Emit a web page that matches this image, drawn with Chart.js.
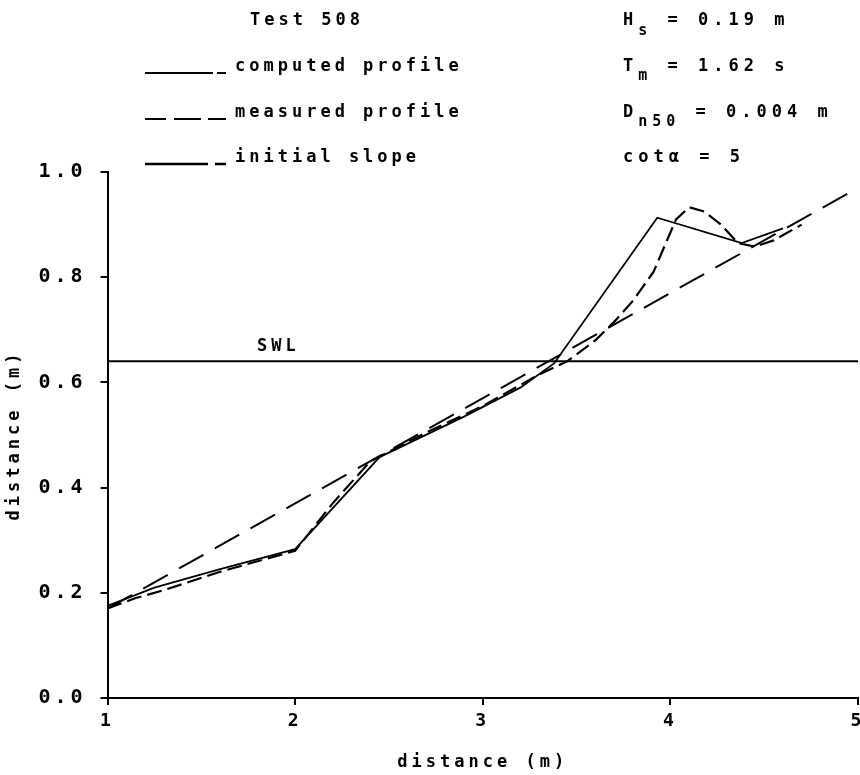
<!DOCTYPE html>
<html>
<head>
<meta charset="utf-8">
<script src="https://cdn.jsdelivr.net/npm/chart.js@4.4.0/dist/chart.umd.min.js"></script>
<style>
  html, body { margin: 0; padding: 0; background: #fff; }
</style>
</head>
<body>
<canvas id="profileChart" width="860" height="775"></canvas>
<script>
// profile data (test 508)
const computedX = [1.0, 1.25, 1.6, 2.0, 2.45, 2.9, 3.2, 3.38, 3.93, 4.38, 4.6];
const computedY = [0.175, 0.21, 0.245, 0.283, 0.458, 0.535, 0.59, 0.636, 0.913, 0.865, 0.893];
const measuredX = [1.0, 1.15, 1.3, 1.6, 2.0, 2.2, 2.4, 2.7, 3.0, 3.3, 3.45, 3.6, 3.7, 3.8, 3.91, 3.97, 4.03, 4.1, 4.18, 4.27, 4.36, 4.45, 4.55, 4.7];
const measuredY = [0.17, 0.19, 0.205, 0.24, 0.28, 0.37, 0.45, 0.505, 0.555, 0.615, 0.64, 0.68, 0.715, 0.755, 0.81, 0.86, 0.91, 0.933, 0.925, 0.9, 0.865, 0.858, 0.87, 0.9];
const slopeX = [1, 5];
const slopeY = [0.17, 0.97];
const swlX = [1, 5];
const swlY = [0.64, 0.64];
const xTicks = [1, 2, 3, 4, 5];
const yTicks = [0.0, 0.2, 0.4, 0.6, 0.8, 1.0];

const FONT = 'DejaVu Sans Mono';
const toPoints = (xs, ys) => xs.map((x, i) => ({ x: x, y: ys[i] }));

// wide plotter-like lettering for every text on the canvas
const spacing = {
    id: 'spacing',
    beforeLayout(chart) { chart.ctx.letterSpacing = '4px'; },
    beforeDraw(chart) { chart.ctx.letterSpacing = '4px'; }
};

function drawParts(ctx, x, y, parts) {
    // parts: [text, size, dy]
    parts.forEach(p => {
        ctx.font = 'bold ' + p[1] + 'px ' + FONT;
        ctx.fillText(p[0], x, y + p[2]);
        x += ctx.measureText(p[0]).width;
    });
}

function seg(ctx, x0, x1, y) {
    ctx.moveTo(x0, y);
    ctx.lineTo(x1, y);
}

const annotations = {
    id: 'annotations',
    afterDraw(chart) {
        const ctx = chart.ctx;
        const ys = chart.scales.y;
        ctx.save();
        ctx.letterSpacing = '4px';
        ctx.fillStyle = '#000';
        ctx.strokeStyle = '#000';
        ctx.textBaseline = 'middle';
        ctx.textAlign = 'left';
        ctx.lineWidth = 2;

        const rowY = [21, 67, 113, 158];

        // legend block
        drawParts(ctx, 250, rowY[0], [['Test 508', 17, 0]]);
        ctx.beginPath();
        seg(ctx, 145, 213, rowY[1] + 6); seg(ctx, 217, 226, rowY[1] + 6);
        seg(ctx, 145, 166, rowY[2] + 6); seg(ctx, 174, 201, rowY[2] + 6); seg(ctx, 208, 226, rowY[2] + 6);
        ctx.stroke();
        ctx.lineWidth = 2.6;
        ctx.beginPath();
        seg(ctx, 145, 208, rowY[3] + 6); seg(ctx, 215, 226, rowY[3] + 6);
        ctx.stroke();
        drawParts(ctx, 235, rowY[1], [['computed profile', 17, 0]]);
        drawParts(ctx, 235, rowY[2], [['measured profile', 17, 0]]);
        drawParts(ctx, 235, rowY[3], [['initial slope', 17, 0]]);

        // wave / stone parameters
        ctx.letterSpacing = '5px';
        drawParts(ctx, 623, rowY[0], [['H', 17, 0], ['s', 15, 10], [' = 0.19 m', 17, 0]]);
        drawParts(ctx, 623, rowY[1], [['T', 17, 0], ['m', 15, 9], [' = 1.62 s', 17, 0]]);
        drawParts(ctx, 623, rowY[2], [['D', 17, 0], ['n50', 15, 9], [' = 0.004 m', 17, 0]]);
        drawParts(ctx, 623, rowY[3], [['cot', 17, 0], ['\u03b1', 17, 0], [' = 5', 17, 0]]);

        // still water level label
        ctx.letterSpacing = '4px';
        ctx.textBaseline = 'bottom';
        drawParts(ctx, 257, ys.getPixelForValue(swlY[0]) - 6, [['SWL', 17, 0]]);
        ctx.restore();
    }
};

const ctx = document.getElementById('profileChart').getContext('2d');
new Chart(ctx, {
    type: 'scatter',
    data: {
        datasets: [
            { label: 'SWL', data: toPoints(swlX, swlY), showLine: true, borderColor: '#000', borderWidth: 2, pointRadius: 0 },
            { label: 'initial slope', data: toPoints(slopeX, slopeY), showLine: true, borderColor: '#000', borderWidth: 2, borderDash: [28, 13], pointRadius: 0 },
            { label: 'measured profile', data: toPoints(measuredX, measuredY), showLine: true, borderColor: '#000', borderWidth: 2.2, borderDash: [15, 6], pointRadius: 0 },
            { label: 'computed profile', data: toPoints(computedX, computedY), showLine: true, borderColor: '#000', borderWidth: 1.8, pointRadius: 0 }
        ]
    },
    options: {
        responsive: false,
        animation: false,
        layout: { padding: { top: 172, left: 4, right: 2, bottom: 0 } },
        plugins: { legend: { display: false }, tooltip: { enabled: false } },
        scales: {
            x: {
                type: 'linear', min: 1, max: 5,
                afterBuildTicks: axis => { axis.ticks = xTicks.map(v => ({ value: v })); },
                afterFit: axis => { axis.paddingRight = 0; },
                ticks: { color: '#000', font: { family: FONT, size: 18, weight: 'bold' }, padding: 6, callback: v => String(v) },
                grid: { drawOnChartArea: false, color: '#000', lineWidth: 2, tickLength: 7 },
                border: { display: true, color: '#000', width: 2 },
                title: { display: true, text: 'distance (m)', color: '#000', font: { family: FONT, size: 17, weight: 'bold' }, padding: { top: 14, bottom: 2 } }
            },
            y: {
                type: 'linear', min: 0, max: 1,
                afterBuildTicks: axis => { axis.ticks = yTicks.map(v => ({ value: v })); },
                ticks: { color: '#000', font: { family: FONT, size: 20, weight: 'bold' }, padding: 14, callback: v => v.toFixed(1) },
                grid: { drawOnChartArea: false, color: '#000', lineWidth: 2, tickLength: 7 },
                border: { display: true, color: '#000', width: 2 },
                title: { display: true, text: 'distance (m)', color: '#000', font: { family: FONT, size: 17, weight: 'bold' }, padding: { top: 0, bottom: 0 } }
            }
        }
    },
    plugins: [spacing, annotations]
});
</script>
</body>
</html>
